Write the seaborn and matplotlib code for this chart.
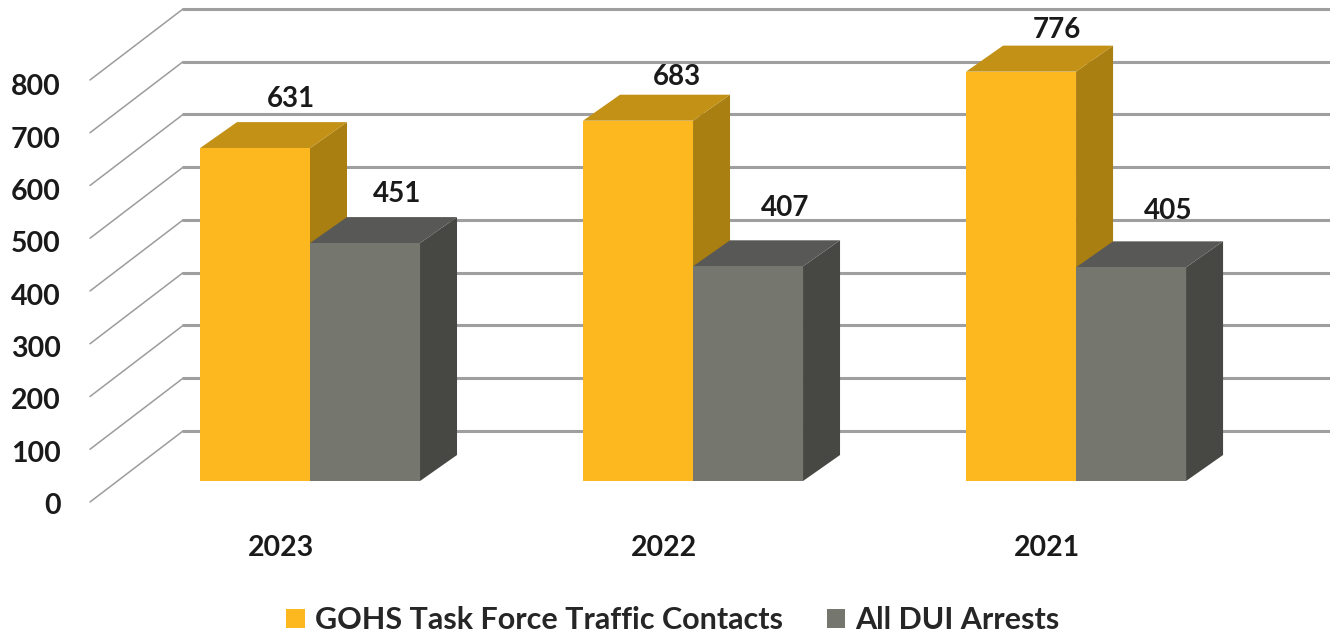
import matplotlib
matplotlib.use("Agg")
import matplotlib.pyplot as plt
from matplotlib.patches import Polygon
from matplotlib.transforms import ScaledTranslation
import pandas as pd
import seaborn as sns

years = ['2023', '2022', '2021']
contacts = [631, 683, 776]
arrests = [451, 407, 405]
series_names = ['GOHS Task Force Traffic Contacts', 'All DUI Arrests']
y_ticks = [0, 100, 200, 300, 400, 500, 600, 700, 800]

df = pd.DataFrame({
    'year': years * 2,
    'value': contacts + arrests,
    'series': [series_names[0]] * 3 + [series_names[1]] * 3,
})

sns.set_theme(style='white')
plt.rcParams['font.family'] = ['Lato', 'DejaVu Sans']
plt.rcParams['font.weight'] = 'bold'

W, H = 1330, 634
fig = plt.figure(figsize=(W / 100, H / 100), dpi=100)
ax = fig.add_axes([90 / W, 1 - 502 / H, 1240 / W, 502 / H])

front = {series_names[0]: '#FCB81E', series_names[1]: '#75776F'}
tops = ['#C29116', '#585856']
sides = ['#A97F12', '#474843']

sns.barplot(data=df, x='year', y='value', hue='series', order=years,
            hue_order=series_names, palette=front, width=0.5744, gap=0,
            saturation=1, errorbar=None, ax=ax, linewidth=0)

# axis limits chosen so the front plane lands where it does in the picture
ax.set_xlim(-0.5744, 2.663)
ax.set_ylim(-39.8, 911.8)
sns.despine(ax=ax, left=True, bottom=True)

# pseudo 3D offsets, in data units
bar_dx, bar_dy = 37 / 383, 26 / 0.5275
wall_dx, wall_dy = 93 / 383, 134.6
x_left = -0.5744
for v in y_ticks:
    ax.plot([x_left, x_left + wall_dx], [v - 39.8, v - 39.8 + wall_dy],
            color='#9C9C9C', lw=1.1, zorder=1, clip_on=False)
    ax.plot([x_left + wall_dx, 2.663], [v - 39.8 + wall_dy] * 2,
            color='#9F9F9F', lw=2.2, zorder=1, clip_on=False)

# value label offsets from the bar's top centre, in pixels
label_offsets = [[(36, 49), (39, 44), (36, 42)], [(32, 49), (37, 58), (37, 56)]]

for i, cont in enumerate(ax.containers):
    base_z = 3 + i * 3
    for j, bar in enumerate(cont):
        x0, w, h = bar.get_x(), bar.get_width(), bar.get_height()
        x1 = x0 + w
        bar.set_zorder(base_z + 2)
        ax.add_patch(Polygon([(x1, 0), (x1 + bar_dx, bar_dy), (x1 + bar_dx, h + bar_dy), (x1, h)],
                             closed=True, fc=sides[i], ec='none', zorder=base_z))
        ax.add_patch(Polygon([(x0, h), (x0 + bar_dx, h + bar_dy), (x1 + bar_dx, h + bar_dy), (x1, h)],
                             closed=True, fc=tops[i], ec='none', zorder=base_z + 1))
        ax.annotate(str(int(h)), (x0 + w / 2, h), xytext=label_offsets[i][j],
                    textcoords='offset pixels', ha='center', va='center',
                    fontsize=20, color='#1A1A1A', zorder=20)

ax.set_xlabel('')
ax.set_ylabel('')
ax.set_yticks(y_ticks)
ax.set_yticklabels([str(v) for v in y_ticks])
ax.tick_params(axis='both', length=0, labelsize=20.5, labelcolor='#1A1A1A')
ax.tick_params(axis='y', pad=21)
ax.tick_params(axis='x', pad=23.5)

# tick labels sit off the front plane, like in the original
for lab in ax.get_xticklabels():
    lab.set_transform(lab.get_transform() + ScaledTranslation(-29 / 100, 0, fig.dpi_scale_trans))
for lab, v in zip(ax.get_yticklabels(), y_ticks):
    lab.set_transform(lab.get_transform() + ScaledTranslation(0, -(22.5 + v / 800 * 3.5) / 100, fig.dpi_scale_trans))

sns.move_legend(ax, 'center', bbox_to_anchor=(673 / W, 1 - 620 / H),
                bbox_transform=fig.transFigure, ncol=2, frameon=False, title=None,
                fontsize=22, handlelength=0.6, handleheight=0.6, columnspacing=1.45,
                handletextpad=0.33)

fig.savefig('out.png', dpi=100)
